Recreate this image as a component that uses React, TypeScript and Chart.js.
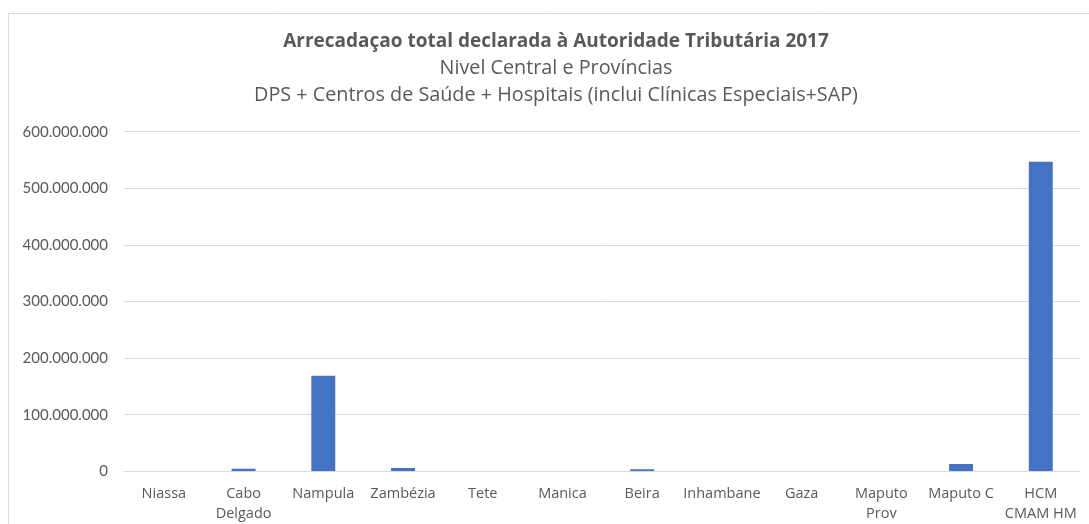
import React, { useEffect, useRef } from "react";
import { Chart, registerables } from "chart.js";

Chart.register(...registerables);

const categories: (string | string[])[] = [
  "Niassa",
  ["Cabo", "Delgado"],
  "Nampula",
  "Zambézia",
  "Tete",
  "Manica",
  "Beira",
  "Inhambane",
  "Gaza",
  ["Maputo", "Prov"],
  "Maputo C",
  ["HCM", "CMAM HM"],
];

const values: number[] = [
  0, 4500000, 169000000, 6000000, 0, 0, 4000000, 0, 0, 0, 13000000, 547000000,
];

const titleText = "Arrecadaçao total declarada à Autoridade Tributária 2017";
const subtitleLines = [
  "Nivel Central e Províncias",
  "DPS + Centros de Saúde + Hospitais (inclui Clínicas Especiais+SAP)",
];

const FONT = "'Open Sans', Lato, sans-serif";
const TICKFONT = "Lato, 'Open Sans', sans-serif";
const TEXT = "#595959";

const borderPlugin = {
  id: "outerBorder",
  beforeDraw(chart: any) {
    const ctx = chart.ctx;
    ctx.save();
    ctx.fillStyle = "#ffffff";
    ctx.fillRect(0, 0, chart.width, chart.height);
    ctx.strokeStyle = "#d9d9d9";
    ctx.lineWidth = 1;
    ctx.beginPath();
    ctx.moveTo(8.5, chart.height + 5);
    ctx.lineTo(8.5, 13.5);
    ctx.lineTo(chart.width + 5, 13.5);
    ctx.stroke();
    ctx.restore();
  },
};

// the original chart frame is wider than the visible crop: shift title blocks
const titleShiftPlugin = {
  id: "titleShift",
  afterLayout(chart: any) {
    (chart.boxes || []).forEach((b: any) => {
      if (b.position === "top") {
        b.left += 15;
        b.right += 15;
      }
    });
  },
};

function fmt(v: number): string {
  return String(Math.round(v)).replace(/\B(?=(\d{3})+(?!\d))/g, ".");
}

export default function App() {
  const ref = useRef<HTMLCanvasElement | null>(null);
  useEffect(() => {
    if (!ref.current) return;
    const chart = new Chart(ref.current, {
      type: "bar",
      data: {
        labels: categories,
        datasets: [
          {
            data: values,
            backgroundColor: "#4472C4",
            borderWidth: 0,
            barPercentage: 0.3,
            categoryPercentage: 1,
          },
        ],
      },
      plugins: [borderPlugin, titleShiftPlugin],
      options: {
        responsive: false,
        animation: false,
        devicePixelRatio: 1,
        layout: { padding: { left: 0, right: 7, top: 0, bottom: 0 } },
        plugins: {
          legend: { display: false },
          tooltip: { enabled: false },
          title: {
            display: true,
            text: titleText,
            color: TEXT,
            font: { family: FONT, size: 19, weight: "bold", lineHeight: 1.2 },
            padding: { top: 30.6, bottom: 1.1 },
          },
          subtitle: {
            display: true,
            text: subtitleLines,
            color: TEXT,
            font: { family: FONT, size: 19.8, weight: "normal", lineHeight: 1.36 },
            padding: { top: 0, bottom: 23.5 },
          },
        },
        scales: {
          x: {
            grid: { display: false, drawTicks: false },
            border: { display: false },
            ticks: {
              color: TEXT,
              font: { family: FONT, size: 14.5, lineHeight: 1.4 },
              padding: 12,
              maxRotation: 0,
              autoSkip: false,
            },
          },
          y: {
            min: 0,
            max: 600000000,
            afterFit: (scale: any) => {
              scale.width = 124;
            },
            grid: { color: "#d9d9d9", drawTicks: false, lineWidth: 1 },
            border: { display: false },
            ticks: {
              stepSize: 100000000,
              color: TEXT,
              font: { family: TICKFONT, size: 15 },
              padding: 16,
              callback: (v: any) => fmt(Number(v)),
            },
          },
        },
      },
    });
    return () => chart.destroy();
  }, []);
  return (
    <div style={{ position: "absolute", left: 0, top: 0, width: 1089, height: 524, overflow: "hidden", background: "#fff" }}>
      <canvas ref={ref} width={1089} height={536} style={{ display: "block" }} />
    </div>
  );
}
